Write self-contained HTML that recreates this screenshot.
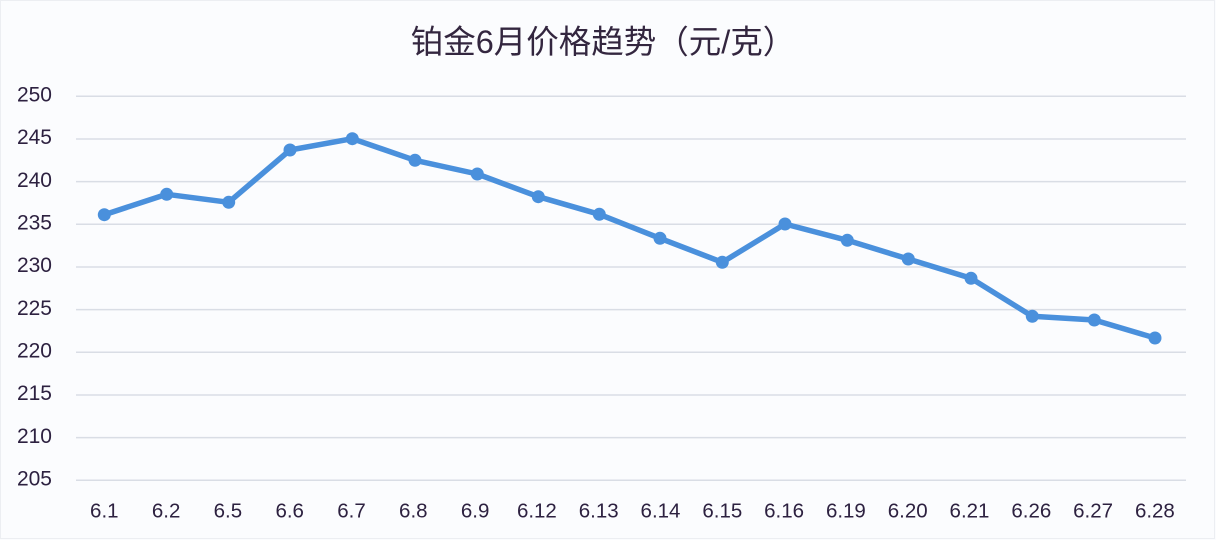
<!DOCTYPE html>
<html>
<head>
<meta charset="utf-8">
<style>
  html,body{margin:0;padding:0;background:#fbfcfe;}
  body{width:1216px;height:540px;overflow:hidden;}
  svg{display:block;}
  text{font-family:"Liberation Sans","Noto Sans CJK SC",sans-serif;fill:#2d2140;}
</style>
</head>
<body>
<svg width="1216" height="540" viewBox="0 0 1216 540" xmlns="http://www.w3.org/2000/svg">
  <rect x="0" y="0" width="1216" height="540" fill="#fbfcfe"/>
  <rect x="0.5" y="0.5" width="1214" height="538" fill="none" stroke="#eceef2" stroke-width="1"/>

  <!-- title -->
  <text x="603" y="53" font-size="32.5" text-anchor="middle" style="font-family:'Liberation Sans','Noto Sans CJK SC',sans-serif;fill:#33263f;">铂金6月价格趋势（元/克）</text>

  <!-- gridlines -->
  <g stroke="#d9dde5" stroke-width="1.5">
    <line x1="76" y1="96.3" x2="1186" y2="96.3"/>
    <line x1="76" y1="139" x2="1186" y2="139"/>
    <line x1="76" y1="181.6" x2="1186" y2="181.6"/>
    <line x1="76" y1="224.3" x2="1186" y2="224.3"/>
    <line x1="76" y1="267" x2="1186" y2="267"/>
    <line x1="76" y1="309.6" x2="1186" y2="309.6"/>
    <line x1="76" y1="352.3" x2="1186" y2="352.3"/>
    <line x1="76" y1="395" x2="1186" y2="395"/>
    <line x1="76" y1="437.6" x2="1186" y2="437.6"/>
    <line x1="76" y1="480.3" x2="1186" y2="480.3"/>
  </g>

  <!-- y labels -->
  <g font-size="21" text-anchor="end">
    <text x="52" y="101.5">250</text>
    <text x="52" y="144.2">245</text>
    <text x="52" y="186.8">240</text>
    <text x="52" y="229.5">235</text>
    <text x="52" y="272.2">230</text>
    <text x="52" y="314.8">225</text>
    <text x="52" y="357.5">220</text>
    <text x="52" y="400.2">215</text>
    <text x="52" y="442.8">210</text>
    <text x="52" y="485.5">205</text>
  </g>

  <!-- x labels -->
  <g font-size="20.5" text-anchor="middle">
    <text x="104.3" y="517.5">6.1</text>
    <text x="166.1" y="517.5">6.2</text>
    <text x="227.9" y="517.5">6.5</text>
    <text x="289.7" y="517.5">6.6</text>
    <text x="351.5" y="517.5">6.7</text>
    <text x="413.3" y="517.5">6.8</text>
    <text x="475.1" y="517.5">6.9</text>
    <text x="536.9" y="517.5">6.12</text>
    <text x="598.7" y="517.5">6.13</text>
    <text x="660.5" y="517.5">6.14</text>
    <text x="722.3" y="517.5">6.15</text>
    <text x="784.1" y="517.5">6.16</text>
    <text x="845.9" y="517.5">6.19</text>
    <text x="907.7" y="517.5">6.20</text>
    <text x="969.5" y="517.5">6.21</text>
    <text x="1031.3" y="517.5">6.26</text>
    <text x="1093.1" y="517.5">6.27</text>
    <text x="1154.9" y="517.5">6.28</text>
  </g>

  <!-- series -->
  <polyline fill="none" stroke="#4a90dc" stroke-width="5.5" stroke-linejoin="round" stroke-linecap="round"
    points="104.3,214.7 166.7,194.3 228.7,202.3 290,150 352.3,138.7 415,160.3 477.3,174 538.3,196.7 599.3,214.3 660,238.3 722.3,262.3 785,224 847.3,240.3 908.3,259 971,278.3 1032.3,316.3 1094.3,320 1155,338"/>
  <g fill="#4a90dc">
    <circle cx="104.3" cy="214.7" r="6.5"/>
    <circle cx="166.7" cy="194.3" r="6.5"/>
    <circle cx="228.7" cy="202.3" r="6.5"/>
    <circle cx="290" cy="150" r="6.5"/>
    <circle cx="352.3" cy="138.7" r="6.5"/>
    <circle cx="415" cy="160.3" r="6.5"/>
    <circle cx="477.3" cy="174" r="6.5"/>
    <circle cx="538.3" cy="196.7" r="6.5"/>
    <circle cx="599.3" cy="214.3" r="6.5"/>
    <circle cx="660" cy="238.3" r="6.5"/>
    <circle cx="722.3" cy="262.3" r="6.5"/>
    <circle cx="785" cy="224" r="6.5"/>
    <circle cx="847.3" cy="240.3" r="6.5"/>
    <circle cx="908.3" cy="259" r="6.5"/>
    <circle cx="971" cy="278.3" r="6.5"/>
    <circle cx="1032.3" cy="316.3" r="6.5"/>
    <circle cx="1094.3" cy="320" r="6.5"/>
    <circle cx="1155" cy="338" r="6.5"/>
  </g>
</svg>
</body>
</html>
